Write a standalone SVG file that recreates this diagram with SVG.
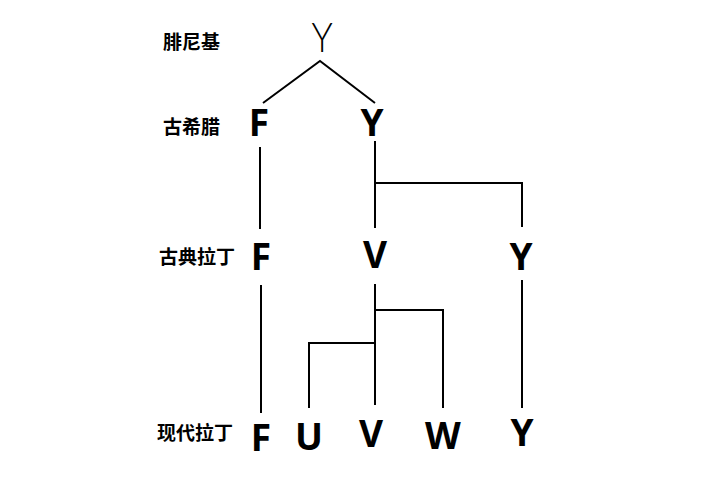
<svg xmlns="http://www.w3.org/2000/svg" width="720" height="482" viewBox="0 0 720 482">
<style>
.lbl{font-family:"Noto Sans CJK SC","Noto Sans",sans-serif;font-weight:bold;font-size:19px;fill:#000;dominant-baseline:central}
.ltr{font-family:"Open Sans","Liberation Sans",sans-serif;font-weight:bold;font-size:37px;fill:#000;text-anchor:middle}
.thin{font-family:Lato,"DejaVu Sans",sans-serif;font-weight:300;font-size:42px;fill:#000;text-anchor:middle}
.c{fill:none;stroke:#000;stroke-width:2}
</style>
<rect width="720" height="482" fill="#fff"/>
<g id="labels">
<text class="lbl" x="163" y="40">腓尼基</text>
<text class="lbl" x="163" y="125">古希腊</text>
<text class="lbl" x="159" y="255">古典拉丁</text>
<text class="lbl" x="157" y="431">现代拉丁</text>
</g>
<g id="phoenician-Y"><text class="thin" x="0" y="52" transform="translate(322 0) scale(0.85 1)">Y</text></g>
<g id="greek-F"><text class="ltr" x="259" y="136">F</text></g>
<g id="greek-Y"><text class="ltr" x="372" y="136">Y</text></g>
<g id="classical-F"><text class="ltr" x="261" y="270">F</text></g>
<g id="classical-V"><text class="ltr" x="375" y="268">V</text></g>
<g id="classical-Y"><text class="ltr" x="521" y="270">Y</text></g>
<g id="modern-F"><text class="ltr" x="261" y="451">F</text></g>
<g id="modern-U"><text class="ltr" x="309" y="450">U</text></g>
<g id="modern-V"><text class="ltr" x="371" y="447">V</text></g>
<g id="modern-W"><text class="ltr" x="443" y="449">W</text></g>
<g id="modern-Y"><text class="ltr" x="522" y="446">Y</text></g>
<g id="connectors">
<polyline class="c" points="263,103 320,61 375,103"/>
<line class="c" x1="260" y1="147" x2="260" y2="229"/>
<line class="c" x1="375" y1="141" x2="375" y2="228"/>
<polyline class="c" points="375,183 522,183 522,227"/>
<line class="c" x1="261" y1="285" x2="261" y2="413"/>
<line class="c" x1="375" y1="284" x2="375" y2="405"/>
<polyline class="c" points="375,310 443,310 443,408"/>
<polyline class="c" points="375,343 309,343 309,408"/>
<line class="c" x1="522" y1="280" x2="522" y2="408"/>
</g>
</svg>
